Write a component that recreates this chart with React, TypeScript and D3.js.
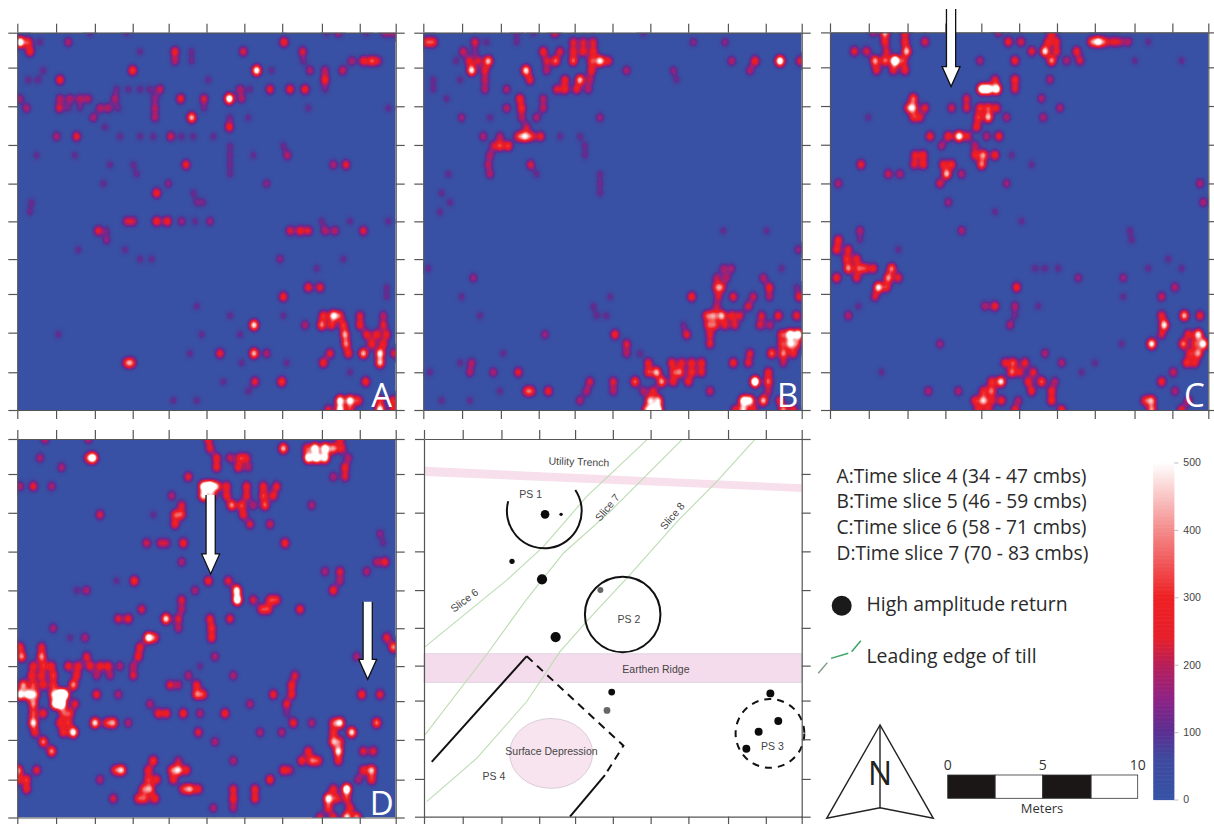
import React, { useEffect, useRef } from "react";
import * as d3 from "d3";

// Amplitude readings per time slice. Each line: row (0.5 m spacing), then pairs of trace (0..1135 along the 20 m line), amplitude.
const sliceA: number[][] = [
  [0, 218,110, 328,110, 963,190, 928,110, 1048,110, 1103,190, 1128,190],
  [1, 8,600, 33,300, 68,110, 153,190, 800,300],
  [2, 38,300, 368,110, 473,280, 523,110, 678,240, 856,240],
  [3, 473,190, 523,110, 1003,190, 1063,320, 1038,280, 1083,190, 858,110],
  [4, 346,330, 718,550, 78,110, 878,190, 976,220, 923,190, 763,110],
  [5, 128,290, 33,110, 63,110, 923,300, 573,110],
  [6, 428,220, 298,110, 333,110, 368,110, 398,110, 668,190, 698,110, 758,260, 818,280, 863,290, 923,110],
  [7, 8,170, 128,190, 158,190, 188,190, 213,190, 293,190, 413,150, 490,280, 560,240, 636,600, 673,190],
  [8, 28,190, 126,230, 153,110, 188,110, 248,190, 273,190, 303,110, 413,190, 560,110, 873,110, 1113,110],
  [9, 228,190, 413,190, 523,450, 638,110, 693,110],
  [10, 636,290, 263,110],
  [11, 118,190, 178,270, 308,110, 368,110, 408,110, 460,230, 493,110, 528,110, 588,110],
  [12, 798,110, 638,110],
  [13, 58,110, 810,200, 638,110, 708,110, 173,110],
  [14, 506,280, 948,190, 986,260, 638,110, 278,110, 348,110],
  [15, 358,110, 638,110],
  [16, 453,150, 748,150, 258,110],
  [17, 418,300, 528,110],
  [18, 538,110, 558,110, 43,110],
  [19, 38,110],
  [20, 328,200, 348,200, 418,300, 450,300, 493,170, 533,110, 578,170, 913,110, 998,110, 1113,110],
  [21, 243,260, 818,240, 848,270, 873,240, 923,200, 953,200, 1038,250, 268,110],
  [22, 268,150],
  [23, 183,110, 323,110],
  [24, 368,110, 403,110, 788,150, 978,110],
  [25, 898,110],
  [27, 873,280, 908,270, 1108,110],
  [28, 798,300, 1108,110],
  [29, 538,110],
  [30, 948,500, 918,300, 968,280, 638,110, 798,110, 1028,240, 1098,190],
  [31, 710,500, 913,380, 943,280, 978,300, 863,190, 1028,280, 1098,240],
  [32, 983,420, 553,110, 668,110, 123,110, 1048,280, 1078,290, 1108,260],
  [33, 986,380, 1063,300, 1098,280],
  [34, 608,270, 710,450, 748,190, 938,260, 993,300, 1038,450, 1088,500, 1131,250, 518,110],
  [35, 343,320, 328,280, 918,300, 1088,450, 673,110, 808,110],
  [36, 998,110],
  [37, 713,260, 793,330, 1045,300, 618,110],
  [38, 693,110],
  [39, 968,550, 998,550, 1023,300, 1128,300, 1088,280, 538,110, 468,110],
  [40, 933,260, 968,550, 998,280, 1088,550, 1128,280],
];

const sliceB: number[][] = [
  [0, 280,110, 330,110, 395,260, 660,110],
  [1, 10,300, 30,300, 155,240, 190,110, 450,240, 480,230, 510,240, 810,150, 905,150, 280,110],
  [2, 120,220, 360,290, 410,240, 450,260, 480,280, 510,280, 155,110],
  [3, 138,260, 165,230, 195,450, 98,110, 397,360, 450,350, 505,300, 530,500, 555,260, 370,220, 925,200, 995,300, 1070,600, 1130,250],
  [4, 145,500, 185,260, 308,500, 370,190, 505,280, 610,190, 750,150, 980,190],
  [5, 30,110, 185,200, 110,110, 320,270, 425,280, 470,450, 500,190, 760,110],
  [6, 30,110, 185,190, 250,190, 400,240, 425,280, 460,270, 495,190],
  [7, 290,300, 70,110, 360,190],
  [8, 295,300, 250,200, 360,200],
  [9, 115,170, 200,110, 530,170, 295,190, 340,190],
  [10, 310,200],
  [11, 305,450, 285,300, 325,270, 352,270, 180,190, 230,190, 410,110, 470,110],
  [12, 230,300, 255,320, 210,190, 485,110],
  [13, 200,190, 485,110],
  [14, 322,240, 195,190],
  [15, 75,110, 200,190, 340,110, 530,110],
  [16, 530,110],
  [17, 55,110, 530,110],
  [18, 80,110],
  [19, 50,110],
  [21, 900,110, 1030,110],
  [23, 1125,160],
  [25, 900,170, 925,170, 1075,110, 15,110],
  [26, 150,170, 880,190, 910,190, 1020,200],
  [27, 895,290, 880,280, 1038,280, 1120,110],
  [28, 805,300, 115,110, 885,220, 930,260, 990,220, 1038,190, 1128,280, 560,110],
  [29, 880,190, 975,240, 510,110],
  [30, 850,300, 870,360, 895,450, 925,280, 950,240, 1015,240, 1065,280, 1120,280, 520,110, 550,110, 170,110],
  [31, 855,290, 875,300, 905,260, 935,240, 1010,230, 1040,190, 780,110],
  [32, 790,260, 860,240, 575,300, 365,170, 1075,300, 1100,600, 1125,600],
  [33, 610,240, 860,250, 1075,280, 1100,450, 1120,300],
  [34, 610,190, 980,240, 1045,360, 1080,380, 1110,280, 240,110, 650,110],
  [35, 110,110, 145,190, 675,260, 745,280, 775,260, 805,280, 835,280, 930,290, 975,250, 1080,190],
  [36, 20,110, 140,190, 210,190, 285,260, 675,300, 700,450, 750,260, 770,350, 805,300, 835,260, 1035,280],
  [37, 635,360, 570,240, 715,420, 750,280, 795,280, 995,700, 1035,350, 500,230],
  [38, 310,270, 375,280, 325,250, 570,190, 490,190, 690,260, 660,190, 860,220, 1035,190, 230,110],
  [39, 470,190, 680,450, 705,450, 960,550, 980,500, 1020,450, 1070,280, 140,110, 55,110],
  [40, 690,550, 705,550, 670,400, 935,250, 960,450, 990,280, 1080,400, 1110,280],
];

const sliceC: number[][] = [
  [0, 130,190, 165,450, 505,190, 665,300, 225,280],
  [1, 165,280, 285,240, 225,280, 535,280, 573,240, 655,280, 680,260, 785,330, 805,500, 825,280, 850,240, 870,190, 895,190, 955,110],
  [2, 73,260, 110,240, 170,220, 230,450, 605,260, 645,500, 680,260, 740,280],
  [3, 135,420, 165,350, 195,700, 220,280, 555,290, 450,190, 665,400, 710,190, 750,240, 1055,110, 915,110],
  [4, 140,260, 190,260, 225,280],
  [5, 555,300, 495,240, 660,190],
  [6, 455,600, 475,600, 500,600, 555,250],
  [7, 250,350, 410,230, 635,190],
  [8, 235,280, 250,400, 285,260, 365,230, 410,240, 450,300, 475,300, 500,260, 690,190],
  [9, 250,260, 270,240, 445,300, 475,450, 530,190, 640,190, 115,110],
  [10, 440,290],
  [11, 300,280, 355,300, 387,550, 413,250, 470,190, 507,280],
  [12, 335,190, 435,190],
  [13, 255,260, 280,280, 460,400, 435,280, 495,300, 545,110],
  [14, 93,270, 252,240, 280,280, 340,280, 365,300, 455,380, 605,110],
  [15, 175,220, 210,190, 350,450, 395,190],
  [16, 330,240, 25,190, 530,170, 1110,190],
  [18, 355,170, 1120,190],
  [19, 495,110],
  [20, 575,110],
  [21, 90,190, 395,190, 900,110],
  [22, 25,300, 90,110, 905,110],
  [23, 20,300, 55,260, 205,110],
  [24, 50,290, 80,280, 1015,110],
  [25, 55,400, 85,300, 105,290, 130,280, 185,380, 615,110, 645,110, 685,110, 955,110, 1055,110],
  [26, 20,300, 80,260, 175,400, 205,260, 745,160, 880,170],
  [27, 145,500, 170,280, 560,300, 1035,200],
  [28, 135,230, 995,220, 880,110],
  [29, 85,110, 495,280, 555,190, 625,110, 465,190],
  [30, 55,200, 555,110, 995,270, 1063,450, 1110,270],
  [31, 540,190, 1003,500],
  [32, 1105,500, 1075,280, 995,230],
  [33, 965,520, 1060,380, 1120,550, 1095,280, 330,170, 875,110],
  [34, 1105,400, 1080,280, 645,190],
  [35, 525,260, 550,320, 585,280, 695,190, 1070,300, 1095,280, 795,110],
  [36, 545,350, 570,250, 610,260, 1030,220, 155,110, 755,110],
  [37, 513,500, 485,290, 595,280, 635,350, 675,190, 995,290],
  [38, 485,350, 460,270, 605,280, 665,280, 295,190, 385,190, 1035,190],
  [39, 460,450, 435,280, 485,250, 515,280, 565,190, 665,300, 965,400, 945,280, 1075,240],
  [40, 445,280, 475,280, 555,280, 695,300, 965,400, 1055,280],
];

const sliceD: number[][] = [
  [0, 83,220, 213,200, 573,280, 968,280],
  [1, 798,450, 578,260, 868,280, 893,600, 923,600, 948,400, 973,280],
  [2, 68,190, 228,550, 213,280, 598,280, 638,220, 668,280, 688,240, 873,600, 898,600, 923,550, 993,190],
  [3, 133,190, 598,280, 663,280, 693,190, 983,280],
  [4, 513,260, 948,190, 983,240],
  [5, 48,270, 8,190, 103,190, 578,700, 558,550, 598,400, 628,280, 688,280, 738,280, 778,270],
  [6, 558,500, 583,400, 463,190, 628,280, 688,260, 738,300, 768,280],
  [7, 643,400, 673,320, 708,190, 743,350, 493,240, 883,190],
  [8, 248,240, 493,300, 473,300, 678,280, 408,110],
  [9, 473,290, 698,240, 758,220],
  [10, 1088,150],
  [11, 388,230, 428,190, 448,190, 498,300, 803,300, 1098,110],
  [13, 1103,270, 1078,190, 493,190],
  [14, 968,240, 1048,190, 923,190],
  [15, 351,320, 573,290, 633,260, 968,190, 298,110],
  [16, 658,550, 948,300, 208,190, 533,190, 178,110],
  [17, 660,650, 493,240, 708,240, 778,280, 758,280],
  [18, 373,240, 733,290, 753,280, 848,280, 493,190],
  [19, 303,250, 333,280, 446,500, 483,240, 578,270, 638,260],
  [20, 483,190, 583,300, 108,190],
  [21, 393,550, 583,300, 413,280, 203,190, 158,110, 1108,270],
  [22, 8,300, 73,260, 1128,400, 368,280],
  [23, 13,400, 73,400, 208,260, 363,280, 593,190, 1018,190],
  [24, 48,280, 78,280, 103,280, 153,280, 183,280, 218,280, 248,270, 273,270, 308,190, 348,190, 548,110],
  [25, 43,280, 73,280, 108,300, 178,280, 238,190, 278,190, 348,240, 513,190, 648,190, 833,240],
  [26, 18,400, 48,300, 78,280, 108,280, 168,400, 538,280, 458,250, 483,190, 823,280],
  [27, 8,550, 33,550, 53,400, 108,400, 128,700, 143,550, 238,280, 303,190, 538,350, 558,280, 768,280, 823,270, 1033,300, 1088,260],
  [28, 48,380, 113,550, 133,700, 173,260, 698,190, 808,260, 398,190],
  [29, 48,300, 78,280, 138,280, 158,280, 448,280, 423,280, 498,300, 623,300, 548,190, 808,110],
  [30, 48,500, 128,280, 233,500, 288,400, 268,280, 153,280, 333,190, 828,280, 883,190, 968,500, 948,280, 1078,380],
  [31, 53,280, 138,300, 168,550, 1003,500, 948,280, 543,250, 728,190, 793,190],
  [32, 78,380, 948,400, 968,280, 593,190],
  [33, 103,400, 873,280, 963,500, 1038,250, 1068,250],
  [34, 408,320, 853,290, 883,340, 903,280, 963,280, 483,190, 648,190],
  [35, 3,400, 58,260, 313,450, 293,280, 393,280, 463,300, 483,450, 508,280, 798,270, 818,190, 1063,450, 1038,280],
  [36, 3,280, 28,300, 248,200, 393,280, 418,280, 468,280, 758,300, 1023,190, 1063,300],
  [37, 28,280, 378,300, 398,380, 518,400, 498,280, 543,280, 648,260, 713,280, 988,650, 948,280],
  [38, 288,240, 363,290, 383,290, 413,300, 648,280, 713,280, 933,550, 958,280, 988,280],
  [39, 933,300, 588,190, 648,190, 998,280],
  [40, 908,250, 948,280, 988,500, 1018,400],
];

const sliceLetters = ["A", "B", "C", "D"];
const traceCount = 1135;
const lineLength = 20;
const rowSpacing = 0.5;
const backgroundAmp = 14;
const xTickValues = [0, 2.05, 4.1, 6.1, 8, 10, 12, 14, 16.1, 18.1, 20];
const yTickValues = [0, 1.85, 3.9, 5.95, 8, 10, 12, 13.85, 15.9, 18, 20];
const ampStops = [0, 60, 100, 150, 200, 240, 300, 400, 500];
const ampColors = ["#3753a5", "#3f4a9f", "#5b2f92", "#8f2385", "#b81f58", "#e6202a", "#ee2024", "#f48c8c", "#ffffff"];
const colorbarTicks = [0, 100, 200, 300, 400, 500];

// Arrows over the slices: slice index, x (m), start y (m), tip y (m)
const arrowPanels = [2, 3, 3];
const arrowX = [6.4, 10.22, 18.52];
const arrowStart = [-1.24, 2.96, 8.6];
const arrowTip = [2.87, 7.13, 12.7];

// Interpretation map (metres)
const trenchBand = [[0.05, 1.47], [20, 2.4], [20, 2.8], [0.05, 1.96]];
const ridgeBand = [[0, 11.37], [20, 11.37], [20, 12.89], [0, 12.89]];
const depression = { cx: 6.73, cy: 16.65, rx: 2.2, ry: 1.85 };
const slice6Edge = [[0, 11.05], [4.38, 7.47], [6.32, 5.7], [8.61, 3.05], [11.8, 0.05]];
const slice7Edge = [[0.05, 15.67], [3.3, 11.44], [5.35, 8.6], [7.38, 6.05], [9.85, 3.85], [13.65, 0.05]];
const slice8Edge = [[0.14, 19.2], [2.8, 16.9], [5.44, 13.9], [7.2, 11.26], [8.6, 9.67], [10.9, 7.2], [13.4, 4.38], [15.5, 2.26], [17.5, 0.05]];
const ps4SolidA = [[0.41, 17.1], [5.44, 11.5]];
const ps4Dashed = [[5.44, 11.5], [10.56, 16.24], [9.58, 17.8]];
const ps4SolidB = [[9.58, 17.8], [7.73, 20]];
const returnsBlack = [
  [6.41, 3.99, 0.23], [7.26, 3.99, 0.09], [4.66, 6.48, 0.14], [6.25, 7.43, 0.27], [6.97, 10.49, 0.27],
  [9.94, 13.4, 0.18], [18.34, 13.47, 0.21], [18.76, 14.93, 0.21], [17.72, 15.5, 0.21], [17.07, 16.4, 0.21],
];
const returnsGrey = [[9.34, 8.0, 0.16], [9.69, 14.37, 0.18]];
const mapLabels: [string, number, number, number][] = [
  ["Utility Trench", 8.2, 1.4, 2],
  ["PS 1", 5.65, 3.1, 0],
  ["PS 2", 10.85, 9.75, 0],
  ["PS 3", 18.45, 16.45, 0],
  ["PS 4", 3.7, 18.05, 0],
  ["Earthen Ridge", 12.28, 12.4, 0],
  ["Surface Depression", 6.75, 16.75, 0],
  ["Slice 6", 2.25, 8.7, -37],
  ["Slice 7", 9.85, 3.75, -50],
  ["Slice 8", 13.3, 4.2, -50],
];
const legendLines = [
  "A:Time slice 4 (34 - 47 cmbs)",
  "B:Time slice 5 (46 - 59 cmbs)",
  "C:Time slice 6 (58 - 71 cmbs)",
  "D:Time slice 7 (70 - 83 cmbs)",
];
const tillSegments = [
  [[0, 1.92], [0.53, 1.29]],
  [[0.75, 1.04], [1.76, 0.74]],
  [[1.96, 0.65], [2.5, 0]],
];
const scaleMarks = [0, 5, 10];
const scaleCuts = [0, 2.5, 5, 7.55, 10];

const slices = [sliceA, sliceB, sliceC, sliceD];
const panelBoxes = [
  [17.3, 32.7, 395.7, 410],
  [423.3, 32.7, 801.7, 410],
  [830, 32.4, 1208.3, 410],
  [17.3, 439, 395.7, 817.5],
];
const mapBox = [424, 439, 801.7, 816.7];

function drawAxes(g: any, x: any, y: any, box: number[]) {
  const [x0, y0, x1, y1] = box;
  const blank = () => "";
  const add = (axis: any, tx: number, ty: number) =>
    g.append("g").attr("transform", `translate(${tx},${ty})`).call(axis.tickFormat(blank).tickSize(9).tickSizeOuter(0));
  add(d3.axisTop(x).tickValues(xTickValues), 0, y0);
  add(d3.axisBottom(x).tickValues(xTickValues), 0, y1);
  add(d3.axisLeft(y).tickValues(yTickValues), x0, 0);
  add(d3.axisRight(y).tickValues(yTickValues), x1, 0);
  g.selectAll("path.domain").attr("stroke", "#555").attr("stroke-width", 1.2);
  g.selectAll(".tick line").attr("stroke", "#555").attr("stroke-width", 1.2);
  g.selectAll("text").remove();
}

function drawSlice(svg: any, rows: number[][], box: number[], index: number, color: any) {
  const [x0, y0, x1, y1] = box;
  const x = d3.scaleLinear().domain([0, lineLength]).range([x0, x1]);
  const y = d3.scaleLinear().domain([0, lineLength]).range([y0, y1]);
  const trace = d3.scaleLinear().domain([0, traceCount]).range([0, lineLength]);
  const perMetre = 10;
  const n = lineLength * perMetre + 1;
  const field = new Float64Array(n * n).fill(backgroundAmp);
  const sigmaX = 0.17;
  const sigmaY = 0.2;
  const reach = Math.ceil(sigmaY * 3.2 * perMetre);
  for (const r of rows) {
    const my = r[0] * rowSpacing;
    for (let k = 1; k < r.length; k += 2) {
      const mx = trace(r[k]);
      const amp = r[k + 1];
      const ci = Math.round(mx * perMetre);
      const cj = Math.round(my * perMetre);
      for (let j = Math.max(0, cj - reach); j <= Math.min(n - 1, cj + reach); j++) {
        for (let i = Math.max(0, ci - reach); i <= Math.min(n - 1, ci + reach); i++) {
          const dx = i / perMetre - mx;
          const dy = j / perMetre - my;
          field[j * n + i] += amp * Math.exp(-(dx * dx) / (2 * sigmaX * sigmaX) - (dy * dy) / (2 * sigmaY * sigmaY));
        }
      }
    }
  }
  const thresholds = d3.range(24, 520, 10);
  const bands = d3.contours().size([n, n]).thresholds(thresholds)(field as any);
  const path = d3.geoPath(
    d3.geoTransform({
      point(this: any, a: number, b: number) {
        this.stream.point(x((a - 0.5) / perMetre), y((b - 0.5) / perMetre));
      },
    }) as any
  );
  const clipId = `clip-${index}`;
  svg.append("clipPath").attr("id", clipId).append("rect")
    .attr("x", x0).attr("y", y0).attr("width", x1 - x0).attr("height", y1 - y0);
  const g = svg.append("g").attr("clip-path", `url(#${clipId})`);
  g.append("rect").attr("x", x0).attr("y", y0).attr("width", x1 - x0).attr("height", y1 - y0).attr("fill", color(backgroundAmp));
  g.append("g").attr("filter", "url(#soft)").selectAll("path").data(bands).join("path")
    .attr("d", (d: any) => path(d)).attr("fill", (d: any) => color(d.value));
  drawAxes(svg.append("g"), x, y, box);
  svg.append("text").text(sliceLetters[index])
    .attr("x", x1 - 14).attr("y", y1 - 3).attr("text-anchor", "middle")
    .attr("font-family", "Open Sans").attr("font-size", 33).attr("fill", "#fff");
}

function drawArrow(svg: any, panel: number, mx: number, ms: number, mt: number) {
  const [x0, y0, x1, y1] = panelBoxes[panel];
  const x = d3.scaleLinear().domain([0, lineLength]).range([x0, x1]);
  const y = d3.scaleLinear().domain([0, lineLength]).range([y0, y1]);
  const cx = x(mx);
  const tip = y(mt);
  const head = tip - 20;
  const top = y(ms);
  const line = d3.line();
  svg.append("path")
    .attr("d", line([[cx - 4.6, top], [cx - 4.6, head], [cx - 9, head], [cx, tip], [cx + 9, head], [cx + 4.6, head], [cx + 4.6, top]] as any))
    .attr("fill", "#fff").attr("stroke", "#111").attr("stroke-width", 1.3);
}

function drawMap(svg: any) {
  const [x0, y0, x1, y1] = mapBox;
  const x = d3.scaleLinear().domain([0, lineLength]).range([x0, x1]);
  const y = d3.scaleLinear().domain([0, lineLength]).range([y0, y1]);
  const g = svg.append("g");
  const line = d3.line<number[]>().x((d) => x(d[0])).y((d) => y(d[1]));
  const k = (x1 - x0) / lineLength;
  g.append("path").attr("d", line(trenchBand as any) + "Z").attr("fill", "#f7e0ec");
  g.append("path").attr("d", line(ridgeBand as any) + "Z").attr("fill", "#f5dcec").attr("stroke", "#d6cbd8").attr("stroke-width", 0.7);
  g.append("ellipse").attr("cx", x(depression.cx)).attr("cy", y(depression.cy))
    .attr("rx", depression.rx * k).attr("ry", depression.ry * k)
    .attr("fill", "#f8e4ef").attr("stroke", "#cdbcc8").attr("stroke-width", 0.7);
  for (const edge of [slice6Edge, slice7Edge, slice8Edge]) {
    g.append("path").attr("d", line(edge as any)).attr("fill", "none").attr("stroke", "#bcdcb2").attr("stroke-width", 1.1);
  }
  for (const seg of [ps4SolidA, ps4SolidB]) {
    g.append("path").attr("d", line(seg as any)).attr("fill", "none").attr("stroke", "#111").attr("stroke-width", 2);
  }
  g.append("path").attr("d", line(ps4Dashed as any)).attr("fill", "none").attr("stroke", "#111").attr("stroke-width", 2).attr("stroke-dasharray", "8 6");
  const arc = d3.arc();
  g.append("path")
    .attr("transform", `translate(${x(6.37)},${y(3.81)})`)
    .attr("d", arc({ innerRadius: 1.98 * k, outerRadius: 1.98 * k, startAngle: (56 * Math.PI) / 180, endAngle: (285 * Math.PI) / 180 } as any))
    .attr("fill", "none").attr("stroke", "#111").attr("stroke-width", 2);
  g.append("circle").attr("cx", x(10.52)).attr("cy", y(9.29)).attr("r", 2 * k).attr("fill", "none").attr("stroke", "#111").attr("stroke-width", 2);
  g.append("circle").attr("cx", x(18.32)).attr("cy", y(15.59)).attr("r", 1.82 * k).attr("fill", "none").attr("stroke", "#111").attr("stroke-width", 2).attr("stroke-dasharray", "7 6");
  g.selectAll("circle.black").data(returnsBlack).join("circle").attr("class", "black")
    .attr("cx", (d: number[]) => x(d[0])).attr("cy", (d: number[]) => y(d[1])).attr("r", (d: number[]) => d[2] * k).attr("fill", "#0c0c0c");
  g.selectAll("circle.grey").data(returnsGrey).join("circle").attr("class", "grey")
    .attr("cx", (d: number[]) => x(d[0])).attr("cy", (d: number[]) => y(d[1])).attr("r", (d: number[]) => d[2] * k).attr("fill", "#666");
  g.selectAll("text.lab").data(mapLabels).join("text").attr("class", "lab")
    .attr("transform", (d: any) => `translate(${x(d[1])},${y(d[2])}) rotate(${d[3]})`)
    .attr("text-anchor", "middle").attr("font-family", "Liberation Sans").attr("font-size", 10.5).attr("fill", "#444")
    .text((d: any) => d[0]);
  drawAxes(svg.append("g"), x, y, mapBox);
}

function drawLegend(svg: any, color: any) {
  const g = svg.append("g");
  const font = "Open Sans";
  const baselines = d3.scalePoint<number>().domain(d3.range(legendLines.length) as any).range([482.7, 560]);
  legendLines.forEach((t, i) => {
    g.append("text").attr("x", 836.5).attr("y", baselines(i as any)).attr("font-family", font).attr("font-size", 19.2).attr("fill", "#2a2a2a").text(t);
  });
  g.append("circle").attr("cx", 841.7).attr("cy", 605.7).attr("r", 10).attr("fill", "#1a1a1a");
  g.append("text").attr("x", 866.5).attr("y", 611).attr("font-family", font).attr("font-size", 19.4).attr("fill", "#2a2a2a").text("High amplitude return");
  g.append("text").attr("x", 866.5).attr("y", 662.5).attr("font-family", font).attr("font-size", 19.4).attr("fill", "#2a2a2a").text("Leading edge of till");
  const tx = d3.scaleLinear().domain([0, 1]).range([818.3, 835.3]);
  const ty = d3.scaleLinear().domain([0, 1]).range([640.7, 657.7]);
  const till = d3.line<number[]>().x((d) => tx(d[0])).y((d) => ty(d[1]));
  tillSegments.forEach((seg, i) => {
    g.append("path").attr("d", till(seg as any)).attr("fill", "none").attr("stroke", i === 0 ? "#7f9f8c" : "#3aa565").attr("stroke-width", 1.5);
  });
  // North arrow
  const nLine = d3.line();
  g.append("path").attr("d", nLine([[880, 725], [826.7, 818.3], [880, 807.7], [933.3, 818.3]] as any) + "Z")
    .attr("fill", "none").attr("stroke", "#222").attr("stroke-width", 1.4).attr("stroke-linejoin", "miter");
  g.append("path").attr("d", nLine([[880, 725], [880, 807.7]] as any)).attr("fill", "none").attr("stroke", "#222").attr("stroke-width", 1.4);
  g.append("text").attr("x", 880).attr("y", 785).attr("text-anchor", "middle").attr("font-family", font).attr("font-size", 32).attr("fill", "#222").text("N");
  // Scale bar
  const sb = d3.scaleLinear().domain([0, 10]).range([947.7, 1137.7]);
  d3.pairs(scaleCuts).forEach(([a, b], i) => {
    g.append("rect").attr("x", sb(a)).attr("y", 775).attr("width", sb(b) - sb(a)).attr("height", 23.3)
      .attr("fill", i % 2 ? "#fff" : "#1a1716").attr("stroke", "#333").attr("stroke-width", 0.8);
  });
  scaleMarks.forEach((m) => {
    g.append("text").attr("x", sb(m)).attr("y", 769.5).attr("text-anchor", "middle").attr("font-family", font).attr("font-size", 14).attr("fill", "#333").text(m);
  });
  g.append("text").attr("x", 1042).attr("y", 813).attr("text-anchor", "middle").attr("font-family", font).attr("font-size", 13).attr("fill", "#333").text("Meters");
  // Colour bar
  const cb = d3.scaleLinear().domain([0, 500]).range([799.5, 462.5]);
  const steps = d3.range(0, 500, 2);
  g.selectAll("rect.cb").data(steps).join("rect").attr("class", "cb")
    .attr("x", 1153.3).attr("width", 21).attr("y", (d: number) => cb(d + 2)).attr("height", (d: number) => cb(d) - cb(d + 2) + 0.6)
    .attr("fill", (d: number) => color(d));
  const axis = g.append("g").attr("transform", "translate(1174.3,0)").call(d3.axisRight(cb).tickValues(colorbarTicks).tickSize(4).tickPadding(5));
  axis.select("path.domain").remove();
  axis.selectAll("line").attr("stroke", "#bbb");
  axis.selectAll("text").attr("font-family", "Liberation Sans").attr("font-size", 10.5).attr("fill", "#444");
}

export default function App() {
  const ref = useRef<SVGSVGElement>(null);
  useEffect(() => {
    const svg = d3.select(ref.current);
    svg.selectAll("*").remove();
    const color = d3.scaleLinear<string>().domain(ampStops).range(ampColors).interpolate(d3.interpolateRgb).clamp(true);
    svg.append("defs").append("filter").attr("id", "soft").attr("x", "-2%").attr("y", "-2%").attr("width", "104%").attr("height", "104%")
      .append("feGaussianBlur").attr("stdDeviation", 0.7);
    slices.forEach((rows, i) => drawSlice(svg, rows, panelBoxes[i], i, color));
    drawMap(svg);
    drawLegend(svg, color);
    arrowPanels.forEach((p, i) => drawArrow(svg, p, arrowX[i], arrowStart[i], arrowTip[i]));
    // white strip above the arrow that leaves the frame of slice C
    svg.append("rect").attr("x", 930).attr("y", 0).attr("width", 40).attr("height", 9).attr("fill", "#fff");
  }, []);
  return (
    <svg ref={ref} width={1214} height={824} viewBox="0 0 1214 824"
      style={{ position: "absolute", left: 0, top: 0, background: "#fff" }} />
  );
}
